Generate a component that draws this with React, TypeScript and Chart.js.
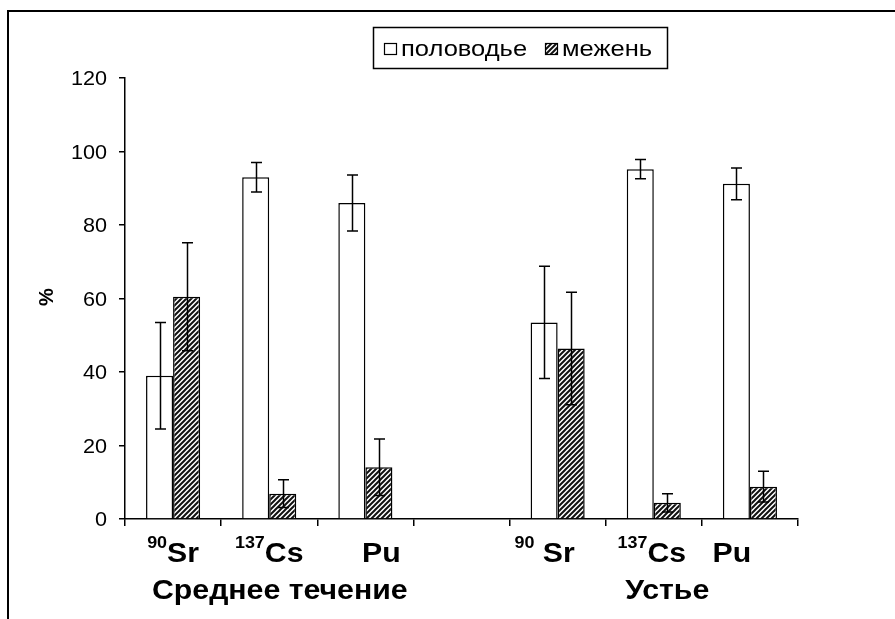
import React, { useEffect, useRef } from "react";
import { Chart, registerables } from "chart.js";

Chart.register(...registerables);

// ---- data ----
const categories = ["90Sr", "137Cs", "Pu", "", "90Sr", "137Cs", "Pu"];
const massNumbers = ["90", "137", "", "", "90", "137", ""];
const elementSymbols = ["Sr", "Cs", "Pu", "", " Sr", "Cs", "Pu"];
const groupNames = ["Среднее течение", "Устье"];
const seriesNames = ["половодье", "межень"];
const yTickValues = [0, 20, 40, 60, 80, 100, 120];
const yTitle = "%";

const flood = [39, 93, 86, null, 53.5, 95.2, 91.2];
const floodErr = [14.5, 4, 7.6, null, 15.3, 2.6, 4.3];
const lowWater = [60.5, 6.9, 14.1, null, 46.4, 4.4, 8.8];
const lowWaterErr = [14.7, 3.8, 7.7, null, 15.3, 2.5, 4.2];

const FF = "'Liberation Sans', Arial, sans-serif";

function makeHatch(): CanvasPattern | string {
  const c = document.createElement("canvas");
  const s = 5;
  c.width = s;
  c.height = s;
  const g = c.getContext("2d");
  if (!g) return "#555";
  g.fillStyle = "#fff";
  g.fillRect(0, 0, s, s);
  g.strokeStyle = "#111";
  g.lineWidth = 2;
  g.beginPath();
  g.moveTo(-1, s + 1);
  g.lineTo(s + 1, -1);
  g.moveTo(-2, 2);
  g.lineTo(2, -2);
  g.moveTo(s - 2, s + 2);
  g.lineTo(s + 2, s - 2);
  g.stroke();
  const p = g.createPattern(c, "repeat");
  return p || "#555";
}

function stretchText(ctx: CanvasRenderingContext2D, text: string, x: number, y: number, font: string, align: CanvasTextAlign, sx: number) {
  ctx.save();
  ctx.translate(x, y);
  ctx.scale(sx, 1);
  ctx.font = font;
  ctx.textAlign = align;
  ctx.textBaseline = "alphabetic";
  ctx.fillText(text, 0, 0);
  ctx.restore();
}

export default function App() {
  const ref = useRef<HTMLCanvasElement>(null);

  useEffect(() => {
    const canvas = ref.current;
    if (!canvas) return;
    const hatch = makeHatch();
    const errs = [floodErr, lowWaterErr];

    const labelNudge = [0, 0, 16, 0, -13, -2, -18];
    const groupAnchors = [1.11, 5.14];
    const SX = 1.12;

    const decorPlugin = {
      id: "decor",
      afterDatasetsDraw(chart: any) {
        const ctx = chart.ctx;
        const ys = chart.scales.y;
        ctx.save();
        ctx.strokeStyle = "#000";
        ctx.lineWidth = 1.5;
        chart.data.datasets.forEach((ds: any, di: number) => {
          const meta = chart.getDatasetMeta(di);
          meta.data.forEach((el: any, i: number) => {
            const v = ds.data[i];
            const e = errs[di][i];
            if (v == null || e == null) return;
            const x = Math.round(el.x) + 0.5;
            const yt = ys.getPixelForValue(v + e);
            const yb = ys.getPixelForValue(v - e);
            ctx.beginPath();
            ctx.moveTo(x, yt);
            ctx.lineTo(x, yb);
            ctx.moveTo(x - 5.5, yt);
            ctx.lineTo(x + 5.5, yt);
            ctx.moveTo(x - 5.5, yb);
            ctx.lineTo(x + 5.5, yb);
            ctx.stroke();
          });
        });
        ctx.restore();
      },
      afterDraw(chart: any) {
        const ctx = chart.ctx as CanvasRenderingContext2D;
        const xs = chart.scales.x;
        const ys = chart.scales.y;
        ctx.save();
        // frame
        ctx.strokeStyle = "#000";
        ctx.lineWidth = 2;
        ctx.beginPath();
        ctx.moveTo(8, 619);
        ctx.lineTo(8, 11);
        ctx.lineTo(895, 11);
        ctx.stroke();

        ctx.fillStyle = "#000";

        // y tick labels
        yTickValues.forEach((v) => {
          const y = ys.getPixelForValue(v) + 7;
          stretchText(ctx, String(v), 107, y, `20px ${FF}`, "right", 1.08);
        });

        // x labels with superscripts
        const supFont = `bold 16px ${FF}`;
        const symFont = `bold 27px ${FF}`;
        categories.forEach((_c, i) => {
          const sup = massNumbers[i];
          const sym = elementSymbols[i];
          if (!sup && !sym) return;
          ctx.font = supFont;
          const w1 = sup ? ctx.measureText(sup).width * SX : 0;
          ctx.font = symFont;
          const w2 = ctx.measureText(sym).width * SX;
          const cx = xs.getPixelForValue(i) + labelNudge[i];
          const start = cx - (w1 + w2) / 2;
          if (sup) stretchText(ctx, sup, start, 548, supFont, "left", SX);
          stretchText(ctx, sym, start + w1, 562, symFont, "left", SX);
        });

        // group labels
        groupNames.forEach((g, i) => {
          stretchText(ctx, g, xs.getPixelForValue(groupAnchors[i]), 599, symFont, "center", SX);
        });

        // y title
        ctx.save();
        ctx.translate(53, 297);
        ctx.rotate(-Math.PI / 2);
        ctx.font = `bold 20px ${FF}`;
        ctx.textAlign = "center";
        ctx.fillText(yTitle, 0, 0);
        ctx.restore();

        // legend
        ctx.lineWidth = 1.5;
        ctx.strokeStyle = "#000";
        ctx.strokeRect(373.5, 27.5, 294, 41);
        ctx.lineWidth = 1.2;
        ctx.fillStyle = "#fff";
        ctx.fillRect(384.5, 43.5, 12, 11);
        ctx.strokeRect(384.5, 43.5, 12, 11);
        ctx.fillStyle = hatch as any;
        ctx.fillRect(545.5, 43.5, 12, 11);
        ctx.strokeRect(545.5, 43.5, 12, 11);
        ctx.fillStyle = "#000";
        stretchText(ctx, seriesNames[0], 401, 56, `22px ${FF}`, "left", 1.16);
        stretchText(ctx, seriesNames[1], 562, 56, `22px ${FF}`, "left", 1.16);
        ctx.restore();
      },
    };

    const chart = new Chart(canvas, {
      type: "bar",
      data: {
        labels: categories,
        datasets: [
          {
            label: seriesNames[0],
            data: flood as any,
            backgroundColor: "#ffffff",
            borderColor: "#000",
            borderWidth: 1.5,
          },
          {
            label: seriesNames[1],
            data: lowWater as any,
            backgroundColor: hatch as any,
            borderColor: "#000",
            borderWidth: 1.5,
          },
        ],
      },
      options: {
        responsive: false,
        animation: false,
        devicePixelRatio: 1,
        layout: { padding: { left: 0, top: 78, right: 97, bottom: 0 } },
        datasets: { bar: { categoryPercentage: 0.5625, barPercentage: 1 } },
        plugins: {
          legend: { display: false },
          tooltip: { enabled: false },
          title: { display: false },
        },
        scales: {
          x: {
            type: "category",
            afterFit: (s: any) => {
              s.height = 100;
            },
            ticks: { display: false },
            grid: {
              offset: true,
              drawOnChartArea: false,
              drawTicks: true,
              tickLength: 7,
              color: "#000",
              lineWidth: 1.5,
            },
            border: { color: "#000", width: 1.5 },
          },
          y: {
            min: 0,
            max: 120,
            afterFit: (s: any) => {
              s.width = 125;
            },
            afterBuildTicks: (s: any) => {
              s.ticks = yTickValues.map((v) => ({ value: v }));
            },
            ticks: { display: false },
            grid: {
              drawOnChartArea: false,
              drawTicks: true,
              tickLength: 6,
              color: "#000",
              lineWidth: 1.5,
            },
            border: { color: "#000", width: 1.5 },
          },
        },
      },
      plugins: [decorPlugin],
    } as any);

    return () => chart.destroy();
  }, []);

  return (
    <div style={{ position: "absolute", left: 0, top: 0, width: 895, height: 619, background: "#fff" }}>
      <canvas ref={ref} width={895} height={619} style={{ display: "block" }} />
    </div>
  );
}
